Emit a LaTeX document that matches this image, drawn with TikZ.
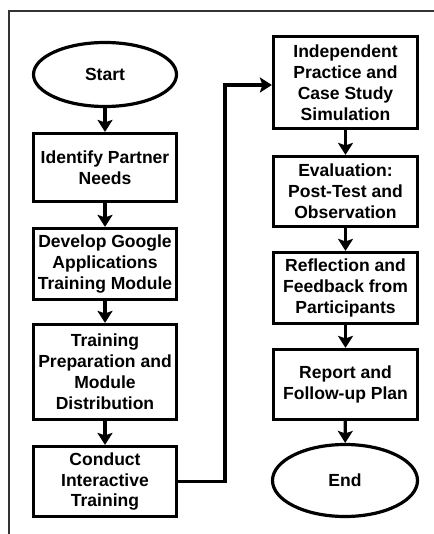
\documentclass[tikz,border=0pt]{standalone}
\usepackage{fontspec}
\setmainfont{Liberation Sans}
\usetikzlibrary{shapes.geometric,arrows.meta}
\begin{document}
\begin{tikzpicture}[x=1bp,y=-1bp,
  every node/.style={font=\fontsize{17.6}{21}\selectfont\bfseries, align=center, inner sep=0pt},
  stepbox/.style={draw, line width=3.2bp, rectangle, minimum width=143bp},
  terminal/.style={draw, line width=3.2bp, ellipse},
  flow/.style={line width=3.2bp, -{Stealth[length=12bp,width=15bp,inset=2.5bp]}},
  frameline/.style={draw=black!80, line width=1.2bp}]
\useasboundingbox (0,0) rectangle (434,534);
% page frame
\draw[frameline] (434,11) -- (9,11) -- (9,534);

% left column
\node[terminal, minimum width=143bp, minimum height=64bp] (start) at (105,74.5) {Start};
\node[stepbox, minimum height=68bp] (identify) at (105,167.5) {Identify Partner\\Needs};
\node[stepbox, minimum height=71bp] (develop) at (105,264) {Develop Google\\Applications\\Training Module};
\node[stepbox, minimum height=95bp] (prep) at (105,372) {Training\\Preparation and\\Module\\Distribution};
\node[stepbox, minimum height=70bp] (conduct) at (105,481.5) {Conduct\\Interactive\\Training};

% right column
\node[stepbox, minimum width=144bp, minimum height=92bp] (practice) at (345.5,82.5) {Independent\\Practice and\\Case Study\\Simulation};
\node[stepbox, minimum width=144bp, minimum height=70bp] (eval) at (345.5,191.5) {Evaluation:\\Post-Test and\\Observation};
\node[stepbox, minimum width=144bp, minimum height=71bp] (reflect) at (345.5,288) {Reflection and\\Feedback from\\Participants};
\node[stepbox, minimum width=144bp, minimum height=70bp] (report) at (345.5,384.5) {Report and\\Follow-up Plan};
\node[terminal, minimum width=145bp, minimum height=72bp] (finish) at (345,480.5) {End};

% connectors
\draw[flow] (start) -- (identify);
\draw[flow] (identify) -- (develop);
\draw[flow] (develop) -- (prep);
\draw[flow] (prep) -- (conduct);
\coordinate (turn) at (225,85);
\draw[flow] (conduct.east) -- (turn |- conduct.east) -- (turn) -- (turn -| practice.west);
\draw[flow] (practice) -- (eval);
\draw[flow] (eval) -- (reflect);
\draw[flow] (reflect) -- (report);
\draw[flow] (report) -- (finish);
\end{tikzpicture}
\end{document}
